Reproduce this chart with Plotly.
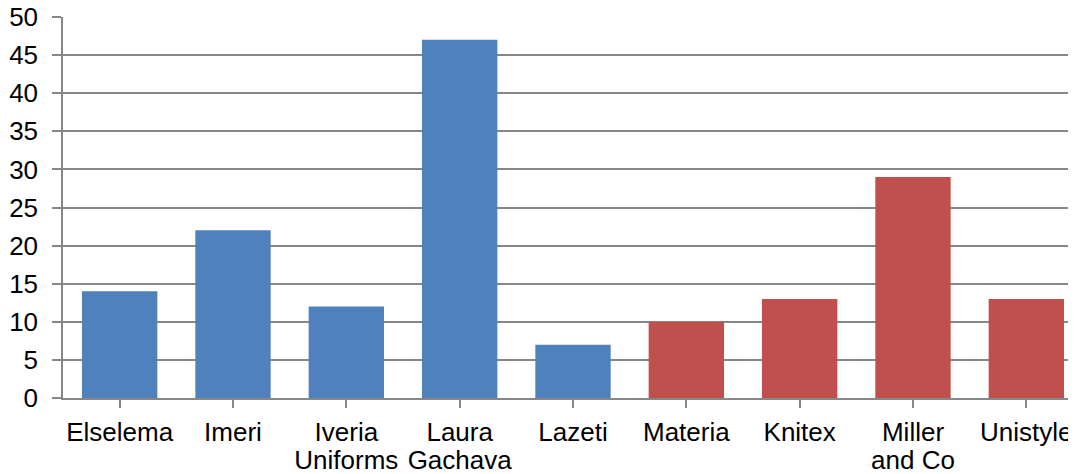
import plotly.graph_objects as go

categories_line1 = ["Elselema", "Imeri", "Iveria", "Laura", "Lazeti",
                    "Materia", "Knitex", "Miller", "Unistyle"]
categories_line2 = ["", "", "Uniforms", "Gachava", "", "", "", "and Co", ""]
values = [14, 22, 12, 47, 7, 10, 13, 29, 13]
bar_colors = ["#4F81BD"] * 5 + ["#C0504D"] * 4
y_ticks = [0, 5, 10, 15, 20, 25, 30, 35, 40, 45, 50]

xs = list(range(len(values)))
fig = go.Figure(go.Bar(
    x=xs, y=values,
    marker=dict(color=bar_colors, line=dict(width=0)),
    width=0.665,
))
# invisible trace to carry second-line labels axis
fig.add_trace(go.Scatter(x=xs, y=[None] * len(xs), xaxis="x2", showlegend=False,
                         hoverinfo="skip", mode="markers"))

axis_gray = "#878787"
font = dict(family="Liberation Sans, Arial, sans-serif", size=26, color="#000000")

fig.update_layout(
    width=1076, height=474,
    margin=dict(l=55, r=1, t=9, b=84),
    paper_bgcolor="white", plot_bgcolor="white",
    font=font,
    showlegend=False,
    xaxis=dict(
        tickmode="array", tickvals=xs, ticktext=categories_line1,
        range=[-0.5, 8.5],
        showline=True, linecolor=axis_gray, linewidth=1.5,
        ticks="outside", tickson="boundaries", ticklen=8, tickcolor=axis_gray, tickwidth=1.5,
        showgrid=False, zeroline=False, automargin=False,
        tickfont=font, ticklabelstandoff=2, ticklabeloverflow="allow",
    ),
    xaxis2=dict(
        overlaying="x", side="bottom", matches="x",
        tickmode="array", tickvals=xs, ticktext=categories_line2,
        range=[-0.5, 8.5],
        showline=False, ticks="", showgrid=False, zeroline=False, automargin=False,
        tickfont=font, ticklabelstandoff=44, ticklabeloverflow="allow",
    ),
    yaxis=dict(
        range=[0, 50], tickvals=y_ticks,
        showline=True, linecolor=axis_gray, linewidth=1.5,
        ticks="outside", ticklen=9, tickcolor=axis_gray, tickwidth=1.5,
        showgrid=True, gridcolor=axis_gray, gridwidth=1.5,
        zeroline=False, ticklabelstandoff=9, automargin=False,
        tickfont=font, ticklabeloverflow="allow",
    ),
)

fig.write_html("out.html")
